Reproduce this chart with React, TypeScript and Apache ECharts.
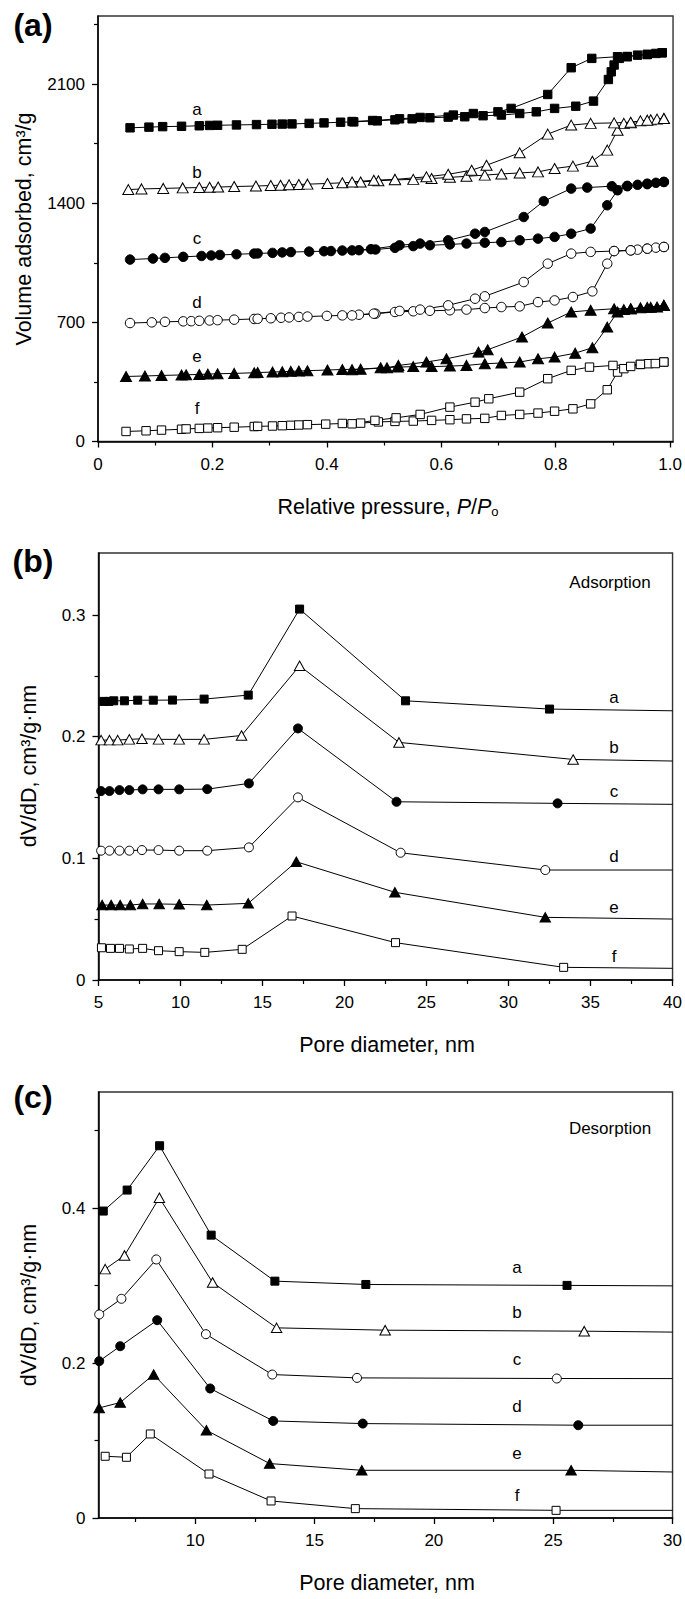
import React, { useEffect, useRef } from 'react';
import * as echarts from 'echarts';

type P = [number, number];

// ---------- Panel (a): N2 isotherms (x: P/Po, y: cm3/g) ----------
const isoA_ads: P[] = [[0.056,1843],[0.089,1847],[0.113,1850],[0.146,1852],[0.177,1855],[0.195,1857],[0.209,1858],[0.242,1860],[0.277,1862],[0.304,1864],[0.322,1865],[0.339,1866],[0.369,1869],[0.395,1872],[0.424,1876],[0.447,1878],[0.488,1884],[0.519,1890],[0.549,1896],[0.580,1902],[0.612,1906],[0.641,1908],[0.673,1914],[0.705,1918],[0.737,1927],[0.766,1937],[0.798,1957],[0.835,1970],[0.866,2000],[0.892,2127],[0.897,2172],[0.902,2212],[0.911,2251],[0.925,2261],[0.943,2270],[0.960,2274],[0.975,2280],[0.986,2284]];
const isoA_des: P[] = [[0.986,2284],[0.960,2274],[0.925,2262],[0.908,2261],[0.863,2251],[0.827,2196],[0.786,2039],[0.722,1957],[0.699,1937],[0.656,1927],[0.621,1918],[0.563,1904],[0.527,1896],[0.480,1886],[0.444,1880]];

const isoB_ads: P[] = [[0.053,1480],[0.076,1484],[0.114,1487],[0.148,1490],[0.177,1492],[0.195,1494],[0.210,1495],[0.238,1498],[0.276,1501],[0.302,1504],[0.319,1506],[0.334,1508],[0.351,1510],[0.366,1512],[0.401,1516],[0.427,1520],[0.459,1525],[0.490,1532],[0.519,1537],[0.551,1540],[0.583,1545],[0.615,1552],[0.644,1558],[0.676,1565],[0.705,1572],[0.737,1578],[0.769,1584],[0.798,1604],[0.830,1618],[0.864,1647],[0.890,1712],[0.908,1829],[0.919,1869],[0.931,1872],[0.948,1884],[0.966,1890],[0.977,1894],[0.989,1898]];
const isoB_des: P[] = [[0.989,1898],[0.960,1888],[0.931,1876],[0.902,1872],[0.861,1869],[0.827,1859],[0.786,1806],[0.737,1696],[0.679,1623],[0.653,1594],[0.612,1570],[0.574,1555],[0.519,1540],[0.482,1535],[0.444,1525]];

const isoC_ads: P[] = [[0.056,1069],[0.096,1075],[0.117,1079],[0.149,1085],[0.181,1090],[0.198,1093],[0.213,1096],[0.242,1100],[0.273,1104],[0.279,1105],[0.305,1108],[0.322,1111],[0.337,1113],[0.369,1116],[0.395,1118],[0.407,1119],[0.427,1122],[0.456,1124],[0.485,1128],[0.519,1138],[0.551,1148],[0.580,1153],[0.615,1158],[0.644,1163],[0.676,1168],[0.705,1172],[0.737,1182],[0.769,1192],[0.798,1202],[0.827,1221],[0.861,1251],[0.890,1388],[0.908,1476],[0.925,1500],[0.943,1508],[0.960,1515],[0.975,1520],[0.989,1525]];
const isoC_des: P[] = [[0.989,1525],[0.960,1512],[0.925,1502],[0.898,1500],[0.855,1492],[0.827,1486],[0.779,1412],[0.744,1319],[0.676,1231],[0.659,1221],[0.612,1182],[0.563,1163],[0.527,1153],[0.477,1130],[0.444,1123]];

const isoD_ads: P[] = [[0.056,696],[0.094,700],[0.117,703],[0.149,706],[0.163,707],[0.177,709],[0.195,711],[0.209,713],[0.238,716],[0.273,720],[0.279,721],[0.302,724],[0.320,727],[0.334,729],[0.351,732],[0.366,734],[0.400,738],[0.427,741],[0.456,745],[0.485,751],[0.519,761],[0.551,765],[0.580,768],[0.615,771],[0.644,775],[0.676,784],[0.705,790],[0.737,794],[0.769,819],[0.798,829],[0.830,849],[0.864,882],[0.890,1045],[0.902,1119],[0.931,1123],[0.943,1127],[0.960,1133],[0.975,1139],[0.989,1143]];
const isoD_des: P[] = [[0.989,1143],[0.960,1133],[0.931,1123],[0.902,1119],[0.861,1114],[0.827,1104],[0.786,1045],[0.744,937],[0.676,853],[0.659,839],[0.612,800],[0.563,775],[0.527,767],[0.482,751],[0.444,741]];

const isoE_ads: P[] = [[0.049,382],[0.082,385],[0.111,388],[0.146,391],[0.154,392],[0.177,394],[0.192,396],[0.209,398],[0.238,400],[0.273,404],[0.279,405],[0.305,408],[0.322,410],[0.337,412],[0.351,414],[0.366,416],[0.401,420],[0.427,423],[0.459,425],[0.494,433],[0.524,437],[0.551,440],[0.583,440],[0.615,443],[0.644,447],[0.676,457],[0.705,461],[0.737,467],[0.769,486],[0.798,496],[0.834,519],[0.864,551],[0.890,672],[0.908,761],[0.919,775],[0.931,780],[0.948,786],[0.966,788],[0.977,790],[0.989,800]];
const isoE_des: P[] = [[0.989,800],[0.960,788],[0.931,780],[0.902,780],[0.861,771],[0.827,761],[0.786,696],[0.741,614],[0.681,539],[0.665,525],[0.609,486],[0.574,467],[0.525,447],[0.505,433],[0.444,422]];

const isoF_ads: P[] = [[0.049,59],[0.084,63],[0.111,67],[0.146,72],[0.154,74],[0.177,77],[0.192,79],[0.209,81],[0.238,84],[0.273,88],[0.279,89],[0.305,91],[0.322,93],[0.337,95],[0.351,97],[0.366,99],[0.398,102],[0.427,106],[0.459,108],[0.490,115],[0.519,118],[0.551,120],[0.583,124],[0.615,128],[0.644,133],[0.676,136],[0.705,153],[0.737,159],[0.769,167],[0.798,178],[0.830,192],[0.861,221],[0.890,304],[0.908,408],[0.919,428],[0.931,441],[0.948,453],[0.962,457],[0.974,458],[0.989,467]];
const isoF_des: P[] = [[0.989,467],[0.948,453],[0.900,447],[0.859,437],[0.827,418],[0.786,369],[0.737,290],[0.683,251],[0.659,231],[0.615,202],[0.563,159],[0.521,139],[0.484,124],[0.444,104]];

// ---------- Panel (b): adsorption PSD (x: nm, y: cm3/g·nm) ----------
const psdAdsA: P[] = [[5.32,0.229],[5.63,0.229],[5.93,0.2295],[6.58,0.2295],[7.39,0.230],[8.34,0.230],[9.51,0.2301],[11.44,0.2309],[14.13,0.2342],[17.26,0.3049],[23.72,0.2295],[32.5,0.2227],[40,0.2213]];
const psdAdsB: P[] = [[5.16,0.1972],[5.67,0.1972],[6.17,0.1972],[6.88,0.1978],[7.65,0.1983],[8.66,0.1978],[9.92,0.1978],[11.44,0.1978],[13.72,0.201],[17.26,0.2583],[23.32,0.1953],[33.94,0.1813],[40,0.180]];
const psdAdsC: P[] = [[5.16,0.1553],[5.67,0.1553],[6.28,0.1561],[6.88,0.1561],[7.69,0.1567],[8.66,0.1567],[9.92,0.1567],[11.63,0.1569],[14.17,0.1616],[17.16,0.2068],[23.17,0.1465],[32.99,0.1452],[40,0.1444]];
const psdAdsD: P[] = [[5.16,0.1063],[5.67,0.1063],[6.28,0.1063],[6.88,0.1063],[7.65,0.1068],[8.66,0.1068],[9.92,0.1063],[11.63,0.1063],[14.17,0.109],[17.16,0.1501],[23.42,0.1046],[32.24,0.0904],[40,0.0904]];
const psdAdsE: P[] = [[5.22,0.0616],[5.77,0.0616],[6.32,0.0616],[6.94,0.0616],[7.69,0.0625],[8.70,0.0625],[9.92,0.0622],[11.60,0.0616],[14.13,0.063],[17.06,0.0972],[23.07,0.0721],[32.24,0.0515],[40,0.0501]];
const psdAdsF: P[] = [[5.18,0.0265],[5.73,0.026],[6.28,0.026],[6.88,0.0255],[7.69,0.026],[8.66,0.0241],[9.92,0.0233],[11.48,0.0227],[13.76,0.0252],[16.80,0.0526],[23.11,0.0307],[33.36,0.0104],[40,0.0096]];

// ---------- Panel (c): desorption PSD ----------
const psdDesA: P[] = [[6.15,0.3963],[7.15,0.4234],[8.51,0.4806],[10.67,0.3652],[13.34,0.3058],[17.15,0.3015],[25.58,0.3003],[30,0.2997]];
const psdDesB: P[] = [[6.23,0.3213],[7.04,0.339],[8.50,0.4134],[10.73,0.3041],[13.41,0.2455],[17.96,0.2425],[26.3,0.2412],[30,0.240]];
const psdDesC: P[] = [[5.98,0.2628],[6.91,0.283],[8.37,0.3338],[10.45,0.2373],[13.23,0.1852],[16.78,0.1809],[25.15,0.1801],[30,0.180]];
const psdDesD: P[] = [[5.98,0.2025],[6.86,0.2218],[8.41,0.2554],[10.63,0.1672],[13.27,0.1253],[17.02,0.1219],[26.05,0.1198],[30,0.1198]];
const psdDesE: P[] = [[5.98,0.1421],[6.86,0.1491],[8.26,0.1852],[10.47,0.1133],[13.12,0.0703],[16.98,0.0616],[25.75,0.0616],[30,0.0594]];
const psdDesF: P[] = [[6.23,0.0797],[7.12,0.0784],[8.12,0.1085],[10.58,0.0568],[13.18,0.022],[16.71,0.0121],[25.12,0.0099],[30,0.0099]];

// ---------- tick values ----------
const aXTicks = [0, 0.2, 0.4, 0.6, 0.8, 1.0];
const aXMinor = [0.1, 0.3, 0.5, 0.7, 0.9];
const aYTicks = [0, 700, 1400, 2100];
const aYMinor = [350, 1050, 1750, 2450];
const bXTicks = [5, 10, 15, 20, 25, 30, 35, 40];
const bXMinor = [7.5, 12.5, 17.5, 22.5, 27.5, 32.5, 37.5];
const bYTicks = [0, 0.1, 0.2, 0.3];
const bYMinor = [0.05, 0.15, 0.25];
const cXTicks = [10, 15, 20, 25, 30];
const cXMinor = [7.5, 12.5, 17.5, 22.5, 27.5];
const cYTicks = [0, 0.2, 0.4];
const cYMinor = [0.1, 0.3, 0.5];

const sampleLetters = ['a', 'b', 'c', 'd', 'e', 'f'];

const FONT = '"Liberation Sans", Arial, Helvetica, sans-serif';

type Mk = { symbol: string; filled: boolean };
const MK_AB: Mk[] = [
  { symbol: 'rect', filled: true },
  { symbol: 'triangle', filled: false },
  { symbol: 'circle', filled: true },
  { symbol: 'circle', filled: false },
  { symbol: 'triangle', filled: true },
  { symbol: 'rect', filled: false },
];
const MK_C: Mk[] = [
  { symbol: 'rect', filled: true },
  { symbol: 'triangle', filled: false },
  { symbol: 'circle', filled: false },
  { symbol: 'circle', filled: true },
  { symbol: 'triangle', filled: true },
  { symbol: 'rect', filled: false },
];

function symSize(symbol: string, scale = 1): any {
  if (symbol === 'rect') return 8 * scale;
  if (symbol === 'circle') return 9 * scale;
  return [10.5 * scale, 9.5 * scale];
}

function mkSeries(name: string, data: P[], axis: number, mk: Mk, lastBare: boolean, scale = 1) {
  return {
    type: 'line',
    name,
    xAxisIndex: axis,
    yAxisIndex: axis,
    data: data.map((p, i) =>
      lastBare && i === data.length - 1 ? { value: p, symbol: 'none' } : { value: p }
    ),
    symbol: mk.symbol,
    symbolSize: symSize(mk.symbol, scale),
    showSymbol: true,
    showAllSymbol: true,
    clip: false,
    lineStyle: { color: '#000', width: 1 },
    itemStyle: {
      color: mk.filled ? '#000' : '#fff',
      borderColor: '#000',
      borderWidth: 1,
    },
    emphasis: { disabled: true },
    silent: true,
  };
}

function majorAxis(grid: number, min: number, max: number, ticks: number[], fmt: (v: number) => string, pos: string) {
  return {
    type: 'value',
    gridIndex: grid,
    position: pos,
    min,
    max,
    axisLine: { show: true, onZero: false, lineStyle: { color: '#000', width: 1.5 } },
    axisTick: { show: true, inside: false, length: 6, customValues: ticks, lineStyle: { color: '#000', width: 1.3 } },
    axisLabel: {
      show: true,
      customValues: ticks,
      formatter: fmt,
      color: '#000',
      fontFamily: FONT,
      fontSize: 17,
      margin: pos === 'left' ? 13 : 14,
    },
    splitLine: { show: false },
    minorTick: { show: false },
  };
}

function minorAxis(grid: number, min: number, max: number, ticks: number[], pos: string) {
  return {
    type: 'value',
    gridIndex: grid,
    position: pos,
    min,
    max,
    axisLine: { show: false, onZero: false },
    axisTick: { show: true, inside: false, length: 4, customValues: ticks, lineStyle: { color: '#000', width: 1.2 } },
    axisLabel: { show: false },
    splitLine: { show: false },
  };
}

const dec1 = (v: number) => (v === 0 ? '0' : v.toFixed(1));
const plain = (v: number) => String(v);

function txt(text: string, x: number, y: number, size: number, extra: any = {}) {
  return {
    type: 'text',
    x,
    y,
    silent: true,
    ...extra.el,
    style: {
      text,
      fill: '#000',
      fontFamily: FONT,
      fontSize: size,
      fontWeight: extra.bold ? 'bold' : 'normal',
      align: 'center',
      verticalAlign: 'middle',
      textAlign: 'center',
      textVerticalAlign: 'middle',
      ...(extra.rich ? { rich: extra.rich } : {}),
    },
  };
}

export default function App() {
  const ref = useRef<HTMLDivElement>(null);

  useEffect(() => {
    if (!ref.current) return;
    const chart = echarts.init(ref.current, undefined, { renderer: 'svg' });

    const isoAds = [isoA_ads, isoB_ads, isoC_ads, isoD_ads, isoE_ads, isoF_ads];
    const isoDes = [isoA_des, isoB_des, isoC_des, isoD_des, isoE_des, isoF_des];
    const psdAds = [psdAdsA, psdAdsB, psdAdsC, psdAdsD, psdAdsE, psdAdsF];
    const psdDes = [psdDesA, psdDesB, psdDesC, psdDesD, psdDesE, psdDesF];

    const series: any[] = [];
    sampleLetters.forEach((s, i) => {
      series.push(mkSeries('iso-ads-' + s, isoAds[i], 0, MK_AB[i], false, 1.05));
      series.push(mkSeries('iso-des-' + s, isoDes[i], 0, MK_AB[i], false, 1.05));
    });
    sampleLetters.forEach((s, i) => {
      series.push(mkSeries('psd-ads-' + s, psdAds[i], 2, MK_AB[i], true));
    });
    sampleLetters.forEach((s, i) => {
      series.push(mkSeries('psd-des-' + s, psdDes[i], 4, MK_C[i], true));
    });

    const gridStyle = { show: true, borderColor: '#333', borderWidth: 1.4, backgroundColor: 'transparent' };

    const labelsA = [109, 172, 238, 302, 356, 408];
    const labelsB = [697, 747, 791, 856, 907, 956];
    const labelsC = [1267, 1312, 1359, 1406, 1453, 1495];

    const graphics: any[] = [
      txt('(a)', 33, 25, 32, { bold: true }),
      txt('(b)', 33, 561, 32, { bold: true }),
      txt('(c)', 33, 1097, 32, { bold: true }),
      txt('Volume adsorbed, cm³/g', 24, 229, 21.5, { el: { rotation: Math.PI / 2 } }),
      txt('dV/dD, cm³/g·nm', 29, 766, 21.5, { el: { rotation: Math.PI / 2 } }),
      txt('dV/dD, cm³/g·nm', 29, 1305, 21.5, { el: { rotation: Math.PI / 2 } }),
      txt('Relative pressure, {i|P}/{i|P}{s|o}', 388, 507, 21.5, {
        rich: {
          i: { fontStyle: 'italic', fontFamily: FONT, fontSize: 21.5, fill: '#000' },
          s: { fontFamily: FONT, fontSize: 13, fill: '#000', padding: [9, 0, 0, 0] },
        },
      }),
      txt('Pore diameter, nm', 387, 1045, 21.5),
      txt('Pore diameter, nm', 387, 1583, 21.5),
      txt('Adsorption', 610, 582, 17),
      txt('Desorption', 610, 1128, 17),
    ];
    sampleLetters.forEach((s, i) => {
      graphics.push(txt(s, 197, labelsA[i], 17));
      graphics.push(txt(s, 614, labelsB[i], 17));
      graphics.push(txt(s, 517, labelsC[i], 17));
    });

    chart.setOption({
      animation: false,
      backgroundColor: '#fff',
      grid: [
        { left: 98, top: 16, width: 578, height: 425.5, ...gridStyle },
        { left: 98.5, top: 553, width: 577.5, height: 427, ...gridStyle },
        { left: 98.5, top: 1092, width: 577.5, height: 426, ...gridStyle },
      ],
      xAxis: [
        majorAxis(0, 0, 1.005, aXTicks, dec1, 'bottom'),
        minorAxis(0, 0, 1.005, aXMinor, 'bottom'),
        majorAxis(1, 5, 40, bXTicks, plain, 'bottom'),
        minorAxis(1, 5, 40, bXMinor, 'bottom'),
        majorAxis(2, 5.95, 30, cXTicks, plain, 'bottom'),
        minorAxis(2, 5.95, 30, cXMinor, 'bottom'),
      ],
      yAxis: [
        majorAxis(0, 0, 2500, aYTicks, plain, 'left'),
        minorAxis(0, 0, 2500, aYMinor, 'left'),
        majorAxis(1, 0, 0.351, bYTicks, dec1, 'left'),
        minorAxis(1, 0, 0.351, bYMinor, 'left'),
        majorAxis(2, 0, 0.55, cYTicks, dec1, 'left'),
        minorAxis(2, 0, 0.55, cYMinor, 'left'),
      ],
      series,
      graphic: { elements: graphics },
    });

    return () => chart.dispose();
  }, []);

  return (
    <div
      ref={ref}
      style={{ position: 'fixed', left: 0, top: 0, width: 685, height: 1599, background: '#fff' }}
    />
  );
}
